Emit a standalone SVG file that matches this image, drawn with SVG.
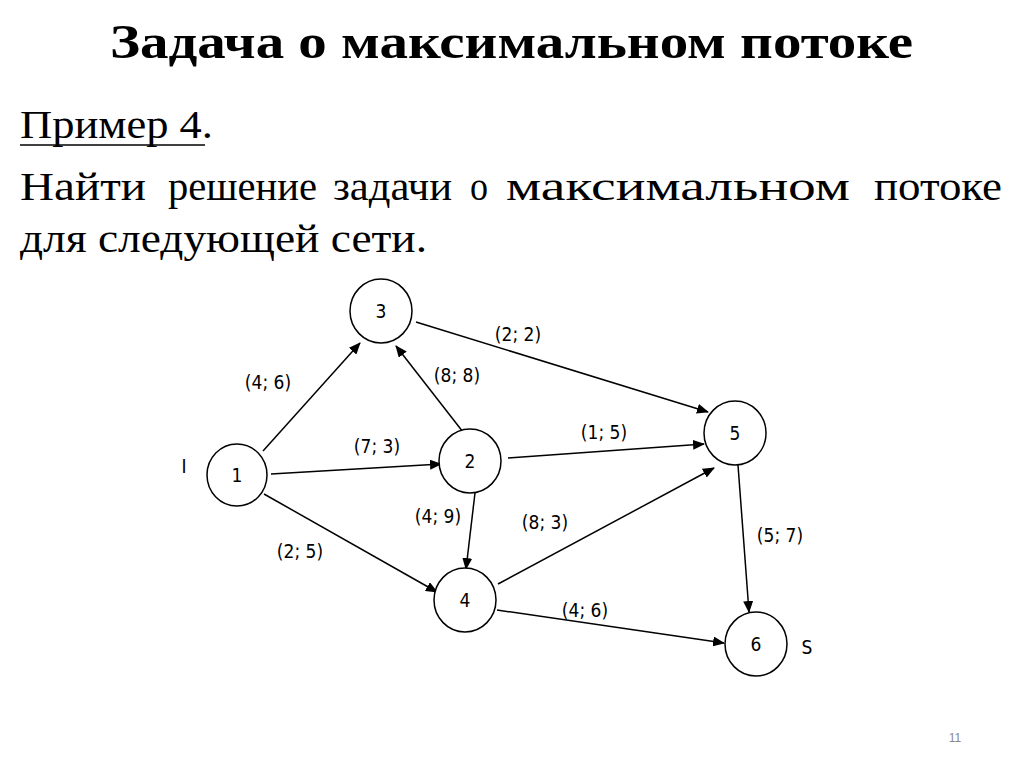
<svg xmlns="http://www.w3.org/2000/svg" width="1024" height="767" viewBox="0 0 1024 767">
<style>
.t{font-family:"Liberation Serif",serif;fill:#000;font-size:40px}
.n ellipse{fill:#fff;stroke:#000;stroke-width:1.5}
.n text,.l{font-family:"DejaVu Sans Condensed","DejaVu Sans",sans-serif;font-size:19px;fill:#000;text-anchor:middle}
.e line{stroke:#000;stroke-width:1.5;marker-end:url(#a)}
</style>
<defs><marker id="a" markerWidth="12" markerHeight="10" refX="11" refY="5" orient="auto" markerUnits="userSpaceOnUse"><path d="M0,0L12,5L0,10z" fill="#000"/></marker></defs>
<rect width="1024" height="767" fill="#fff"/>
<text x="110" y="58" font-family="Liberation Serif,serif" font-size="48" font-weight="bold" textLength="803" lengthAdjust="spacingAndGlyphs">Задача о максимальном потоке</text>
<text class="t" x="20" y="138" textLength="193" lengthAdjust="spacingAndGlyphs">Пример 4.</text>
<line x1="20" y1="145" x2="205" y2="145" stroke="#000" stroke-width="1.5"/>
<text class="t" x="20" y="200" textLength="126" lengthAdjust="spacingAndGlyphs">Найти</text>
<text class="t" x="168" y="200" textLength="149" lengthAdjust="spacingAndGlyphs">решение</text>
<text class="t" x="333" y="200" textLength="119" lengthAdjust="spacingAndGlyphs">задачи</text>
<text class="t" x="470" y="200" textLength="18" lengthAdjust="spacingAndGlyphs">о</text>
<text class="t" x="506" y="200" textLength="344" lengthAdjust="spacingAndGlyphs">максимальном</text>
<text class="t" x="874" y="200" textLength="128" lengthAdjust="spacingAndGlyphs">потоке</text>
<text class="t" x="20" y="252" textLength="407" lengthAdjust="spacingAndGlyphs">для следующей сети.</text>
<text x="955" y="742" font-family="Liberation Sans,sans-serif" font-size="12" fill="#888" text-anchor="middle">11</text>
<g class="e" id="edges">
<line x1="263" y1="451" x2="360" y2="343"/>
<line x1="271" y1="474" x2="441" y2="464"/>
<line x1="463" y1="432" x2="396" y2="346"/>
<line x1="416" y1="322" x2="708" y2="412"/>
<line x1="508" y1="458" x2="704" y2="444"/>
<line x1="475" y1="493" x2="466" y2="569"/>
<line x1="264" y1="494" x2="437" y2="592"/>
<line x1="498" y1="584" x2="714" y2="468"/>
<line x1="497" y1="610" x2="724" y2="643"/>
<line x1="738" y1="465" x2="749" y2="612"/>
</g>
<g id="labels">
<text class="l" x="268" y="389">(4; 6)</text>
<text class="l" x="457" y="382">(8; 8)</text>
<text class="l" x="518" y="341">(2; 2)</text>
<text class="l" x="377" y="453">(7; 3)</text>
<text class="l" x="604" y="439">(1; 5)</text>
<text class="l" x="438" y="523">(4; 9)</text>
<text class="l" x="545" y="529">(8; 3)</text>
<text class="l" x="300" y="558">(2; 5)</text>
<text class="l" x="780" y="542">(5; 7)</text>
<text class="l" x="585" y="617">(4; 6)</text>
<text class="l" x="184" y="473">I</text>
<text class="l" x="807" y="654">S</text>
</g>
<g class="n" id="n3"><ellipse cx="381" cy="311" rx="31" ry="32"/><text x="381" y="318">3</text></g>
<g class="n" id="n1"><ellipse cx="237" cy="475" rx="30" ry="31"/><text x="237" y="482">1</text></g>
<g class="n" id="n2"><ellipse cx="470" cy="461" rx="31" ry="32"/><text x="470" y="468">2</text></g>
<g class="n" id="n5"><ellipse cx="735" cy="433" rx="31" ry="32"/><text x="735" y="440">5</text></g>
<g class="n" id="n4"><ellipse cx="465" cy="600" rx="31" ry="32"/><text x="465" y="607">4</text></g>
<g class="n" id="n6"><ellipse cx="756" cy="644" rx="31" ry="32"/><text x="756" y="651">6</text></g>
</svg>
